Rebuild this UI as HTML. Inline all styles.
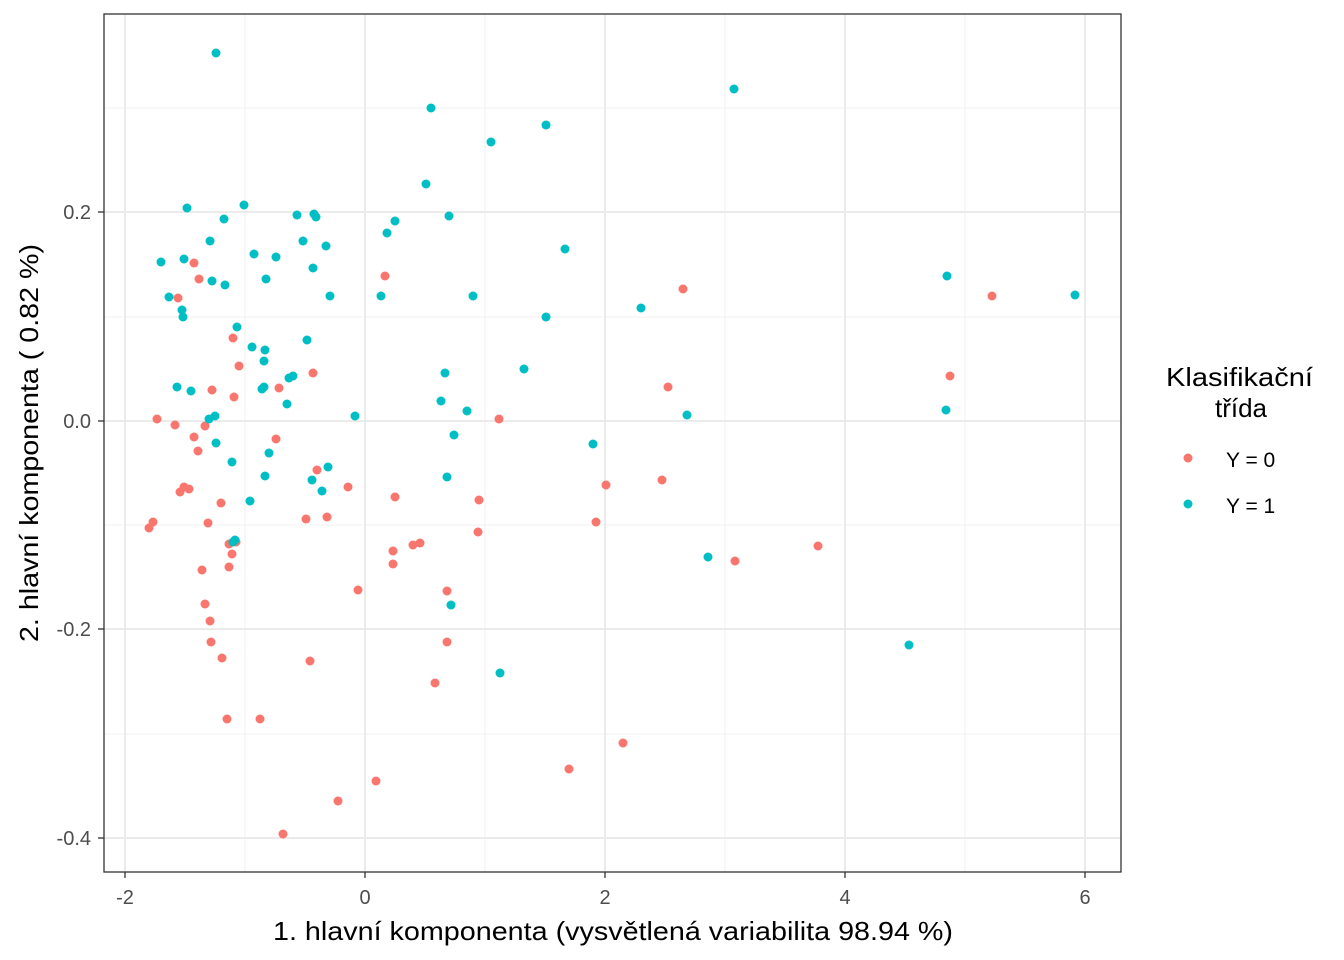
<!DOCTYPE html>
<html><head><meta charset="utf-8"><style>body{margin:0;background:#fff}svg{display:block;font-family:"Liberation Sans",Arial,sans-serif}</style></head><body>
<svg width="1344" height="960" xmlns="http://www.w3.org/2000/svg">
<rect width="1344" height="960" fill="#fff"/>
<g stroke="#f2f2f2" stroke-width="1.1">
<line x1="245" y1="14" x2="245" y2="872"/><line x1="485" y1="14" x2="485" y2="872"/><line x1="725" y1="14" x2="725" y2="872"/><line x1="965" y1="14" x2="965" y2="872"/>
<line x1="104" y1="108" x2="1121" y2="108"/><line x1="104" y1="317" x2="1121" y2="317"/><line x1="104" y1="525" x2="1121" y2="525"/><line x1="104" y1="734" x2="1121" y2="734"/>
</g>
<g stroke="#ebebeb" stroke-width="2">
<line x1="125" y1="14" x2="125" y2="872"/><line x1="365" y1="14" x2="365" y2="872"/><line x1="605" y1="14" x2="605" y2="872"/><line x1="845" y1="14" x2="845" y2="872"/><line x1="1085" y1="14" x2="1085" y2="872"/>
<line x1="104" y1="212" x2="1121" y2="212"/><line x1="104" y1="421" x2="1121" y2="421"/><line x1="104" y1="629" x2="1121" y2="629"/><line x1="104" y1="838" x2="1121" y2="838"/>
</g>
<g id="pts"></g>
<rect x="104" y="14" width="1017" height="858" fill="none" stroke="#333" stroke-width="1.3"/>
<g stroke="#333" stroke-width="1.3">
<line x1="125" y1="872" x2="125" y2="878"/><line x1="365" y1="872" x2="365" y2="878"/><line x1="605" y1="872" x2="605" y2="878"/><line x1="845" y1="872" x2="845" y2="878"/><line x1="1085" y1="872" x2="1085" y2="878"/>
<line x1="98" y1="212" x2="104" y2="212"/><line x1="98" y1="421" x2="104" y2="421"/><line x1="98" y1="629" x2="104" y2="629"/><line x1="98" y1="838" x2="104" y2="838"/>
</g>
<g fill="#4d4d4d" font-size="20" text-anchor="middle">
<text x="125" y="904">-2</text><text x="365" y="904">0</text><text x="605" y="904">2</text><text x="845" y="904">4</text><text x="1085" y="904">6</text>
</g>
<g fill="#4d4d4d" font-size="20" text-anchor="end">
<text x="91" y="219">0.2</text><text x="91" y="428">0.0</text><text x="91" y="636">-0.2</text><text x="91" y="845">-0.4</text>
</g>
<text x="273" y="940" font-size="26" textLength="680" lengthAdjust="spacingAndGlyphs" fill="#000">1. hlavní komponenta (vysvětlená variabilita 98.94 %)</text>
<text transform="translate(38,642) rotate(-90)" font-size="26" textLength="398" lengthAdjust="spacingAndGlyphs" fill="#000">2. hlavní komponenta ( 0.82 %)</text>
<text x="1166" y="386" font-size="26" textLength="147" lengthAdjust="spacingAndGlyphs">Klasifikační</text>
<text x="1241" y="417" font-size="26" text-anchor="middle">třída</text>
<circle cx="1188" cy="458" r="4.5" fill="#F8766D"/><circle cx="1188" cy="504" r="4.5" fill="#00BFC4"/>
<text x="1226" y="467" font-size="21">Y = 0</text><text x="1226" y="513" font-size="21">Y = 1</text>
</svg>
<script>
var r=[[385,276],[194,263],[199,279],[178,298],[233,338],[239,366],[313,373],[279,388],[234,397],[212,390],[157,419],[175,425],[205,426],[276,439],[194,437],[198,451],[184,487],[189,489],[180,492],[317,470],[348,487],[208,523],[236,542],[229,544],[232,554],[229,567],[202,570],[153,522],[149,528],[221,503],[306,519],[327,517],[395,497],[479,500],[478,532],[420,543],[413,545],[393,551],[393,564],[358,590],[447,591],[205,604],[210,621],[211,642],[447,642],[222,658],[310,661],[435,683],[227,719],[260,719],[338,801],[376,781],[283,834],[569,769],[623,743],[596,522],[606,485],[662,480],[668,387],[683,289],[499,419],[735,561],[818,546],[950,376],[992,296]];
var t=[[216,53],[431,108],[734,89],[546,125],[491,142],[426,184],[244,205],[187,208],[224,219],[297,215],[314,214],[316,217],[449,216],[395,221],[387,233],[210,241],[303,241],[326,246],[565,249],[254,254],[276,257],[161,262],[184,259],[313,268],[266,279],[225,285],[212,281],[169,297],[182,310],[183,317],[330,296],[381,296],[473,296],[641,308],[546,317],[237,327],[307,340],[252,347],[265,350],[264,361],[289,378],[293,376],[177,387],[191,391],[264,387],[262,389],[287,404],[524,369],[445,373],[355,416],[441,401],[467,411],[215,416],[209,419],[687,415],[216,443],[454,435],[269,453],[328,467],[593,444],[232,462],[265,476],[312,480],[447,477],[322,491],[250,501],[235,540],[233,542],[708,557],[451,605],[500,673],[909,645],[947,276],[1075,295],[946,410]];
var g=document.getElementById('pts'),s='';
r.forEach(function(p){s+='<circle cx="'+p[0]+'" cy="'+p[1]+'" r="4.5" fill="#F8766D"/>';});
t.forEach(function(p){s+='<circle cx="'+p[0]+'" cy="'+p[1]+'" r="4.5" fill="#00BFC4"/>';});
g.innerHTML=s;
</script>
</body></html>
